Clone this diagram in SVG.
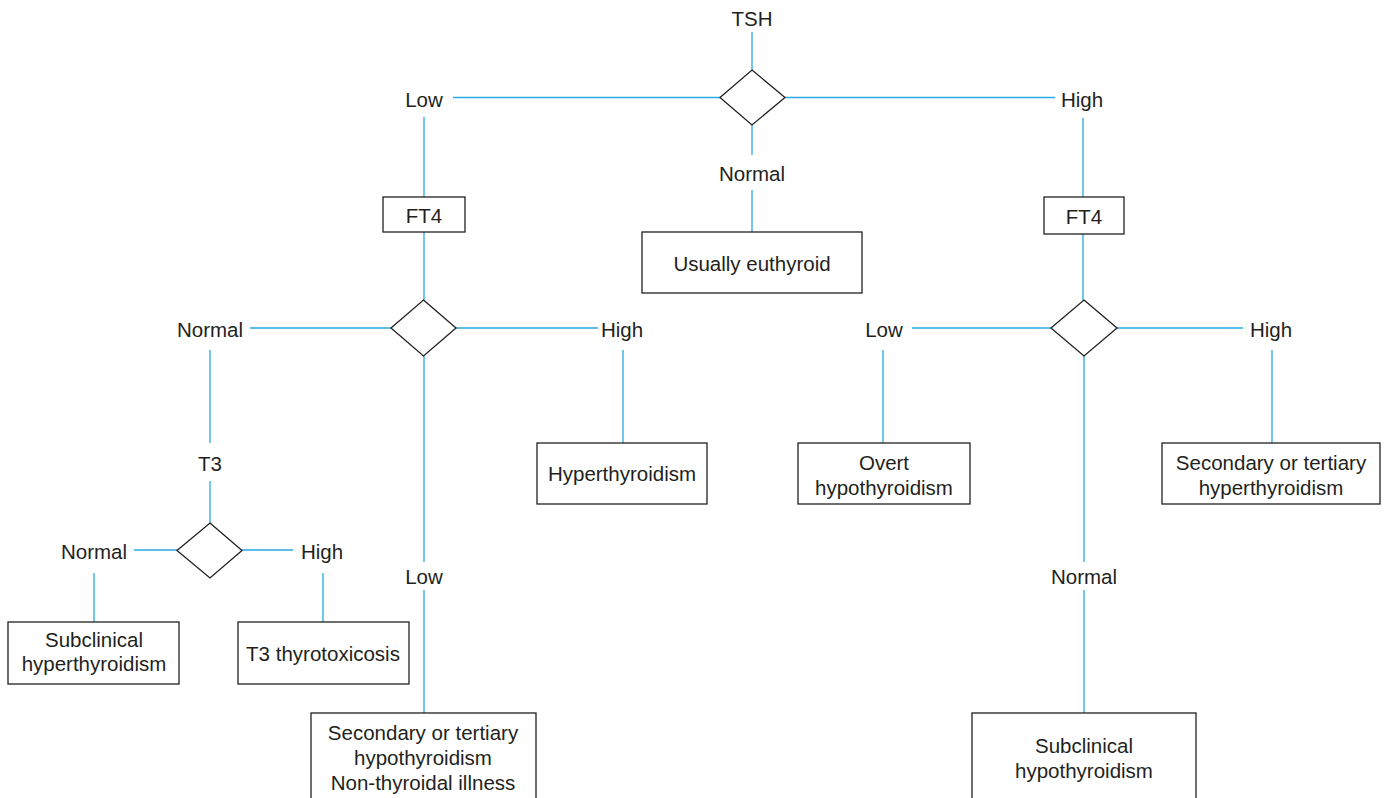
<svg xmlns="http://www.w3.org/2000/svg" width="1390" height="798" viewBox="0 0 1390 798">
<style>
text{font-family:"Liberation Sans",Arial,sans-serif;font-size:20.5px;fill:#231f20;text-anchor:middle;dominant-baseline:central}
.c{stroke:#29abe2;stroke-width:1.3;fill:none}
.b{fill:#fff;stroke:#231f20;stroke-width:1.3}
</style>
<rect width="1390" height="798" fill="#fff"/>
<g id="connectors" class="c">
<path d="M752 32V70M720 97.5H453M785 97.5H1055M752 125V155M752 190V232"/>
<path d="M424 117V197M424 232V300M1083 118V197M1083 234V300"/>
<path d="M391 328H250M456 328H598M210 350V443M210 481V523M623 350V443M424 355V562M424 590V713"/>
<path d="M177 550H134M242 550H293M94 573V622M323 573V622"/>
<path d="M1051 328H912M1117 328H1243M883 350V443M1272 350V443M1084 356V562M1084 590V713"/>
</g>
<g id="tsh"><text x="752" y="18">TSH</text></g>
<g id="d1"><polygon class="b" points="752,70 785,97.5 752,125 720,97.5"/></g>
<g id="lbl-low1"><text x="424" y="99">Low</text></g>
<g id="lbl-high1"><text x="1082" y="99">High</text></g>
<g id="lbl-normal1"><text x="752" y="173">Normal</text></g>
<g id="euthyroid"><rect class="b" x="642" y="232" width="220" height="61"/><text x="752" y="263">Usually euthyroid</text></g>
<g id="ft4-left"><rect class="b" x="383" y="197" width="82" height="35"/><text x="424" y="215">FT4</text></g>
<g id="ft4-right"><rect class="b" x="1044" y="197" width="80" height="37"/><text x="1084" y="216">FT4</text></g>
<g id="d2"><polygon class="b" points="423.5,300 456,328 423.5,356 391,328"/></g>
<g id="lbl-normal2"><text x="210" y="329">Normal</text></g>
<g id="lbl-high2"><text x="622" y="329">High</text></g>
<g id="t3"><text x="210" y="463">T3</text></g>
<g id="d3"><polygon class="b" points="210,523 242,550.5 210,578 177,550.5"/></g>
<g id="lbl-normal3"><text x="94" y="551">Normal</text></g>
<g id="lbl-high3"><text x="322" y="551">High</text></g>
<g id="subhyper"><rect class="b" x="8" y="622" width="171" height="62"/><text x="94" y="639">Subclinical</text><text x="94" y="663">hyperthyroidism</text></g>
<g id="t3tox"><rect class="b" x="238" y="622" width="171" height="62"/><text x="323" y="653">T3 thyrotoxicosis</text></g>
<g id="hyper"><rect class="b" x="537" y="443" width="170" height="61"/><text x="622" y="473">Hyperthyroidism</text></g>
<g id="lbl-low2"><text x="424" y="576">Low</text></g>
<g id="sechypo"><rect class="b" x="311" y="713" width="225" height="90"/><text x="423" y="732">Secondary or tertiary</text><text x="423" y="757">hypothyroidism</text><text x="423" y="782">Non-thyroidal illness</text></g>
<g id="d4"><polygon class="b" points="1084,300 1117,328 1084,356 1051,328"/></g>
<g id="lbl-low3"><text x="884" y="329">Low</text></g>
<g id="lbl-high4"><text x="1271" y="329">High</text></g>
<g id="overt"><rect class="b" x="798" y="443" width="172" height="61"/><text x="884" y="462">Overt</text><text x="884" y="487">hypothyroidism</text></g>
<g id="sechyper"><rect class="b" x="1162" y="443" width="218" height="61"/><text x="1271" y="462">Secondary or tertiary</text><text x="1271" y="487">hyperthyroidism</text></g>
<g id="lbl-normal4"><text x="1084" y="576">Normal</text></g>
<g id="subhypo"><rect class="b" x="972" y="713" width="224" height="90"/><text x="1084" y="745">Subclinical</text><text x="1084" y="770">hypothyroidism</text></g>
</svg>
